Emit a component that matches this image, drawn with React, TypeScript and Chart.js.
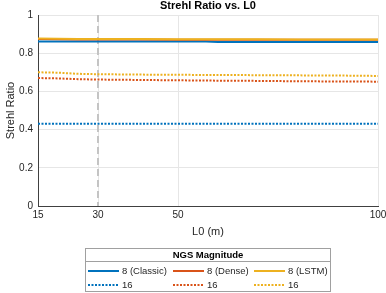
import React, { useEffect, useRef } from "react";
import { Chart, registerables } from "chart.js";

Chart.register(...registerables);

const L0_VALUES = [15, 20, 25, 30, 40, 50, 57, 60, 70, 80, 90, 100];
const CLASSIC_8 = [0.861, 0.861, 0.861, 0.861, 0.861, 0.861, 0.861, 0.858, 0.858, 0.858, 0.858, 0.858];
const DENSE_8 = [0.874, 0.873, 0.872, 0.872, 0.872, 0.871, 0.871, 0.871, 0.871, 0.870, 0.870, 0.870];
const LSTM_8 = [0.877, 0.876, 0.874, 0.874, 0.874, 0.873, 0.873, 0.873, 0.873, 0.872, 0.872, 0.872];
const CLASSIC_16 = [0.431, 0.431, 0.431, 0.431, 0.431, 0.431, 0.431, 0.431, 0.431, 0.431, 0.431, 0.431];
const DENSE_16 = [0.670, 0.668, 0.664, 0.662, 0.660, 0.658, 0.657, 0.656, 0.655, 0.653, 0.652, 0.651];
const LSTM_16 = [0.700, 0.698, 0.692, 0.690, 0.688, 0.687, 0.686, 0.686, 0.685, 0.684, 0.683, 0.681];

const X_TICKS = [15, 30, 50, 100];
const REF_L0 = 30;
const SERIES_LABELS = ["8 (Classic)", "8 (Dense)", "8 (LSTM)", "16", "16", "16"];
const COLORS = ["#0072BD", "#D95319", "#EDB120"];
const TITLE = "Strehl Ratio vs. L0";
const X_TITLE = "L0 (m)";
const Y_TITLE = "Strehl Ratio";
const LEGEND_TITLE = "NGS Magnitude";

const FONT = "'Liberation Sans', Arial, sans-serif";
const TXT = "#262626";

export default function App() {
  const ref = useRef<HTMLCanvasElement | null>(null);

  useEffect(() => {
    const canvas = ref.current;
    if (!canvas) return;
    const seriesData = [CLASSIC_8, DENSE_8, LSTM_8, CLASSIC_16, DENSE_16, LSTM_16];
    const datasets = seriesData.map((arr, i) => ({
      label: SERIES_LABELS[i],
      data: L0_VALUES.map((x, j) => ({ x, y: arr[j] })),
      borderColor: COLORS[i % 3],
      backgroundColor: COLORS[i % 3],
      borderWidth: 2,
      borderDash: i >= 3 ? [2, 1.5] : [],
      pointRadius: 0,
      tension: 0,
      fill: false,
      order: 6 - i,
    }));
    const overlay = {
      id: "overlay",
      beforeDatasetsDraw(chart: any) {
        const { ctx, chartArea, scales } = chart;
        const x = scales.x.getPixelForValue(REF_L0);
        ctx.save();
        ctx.strokeStyle = "#c4c4c4";
        ctx.lineWidth = 2;
        ctx.setLineDash([7, 4]);
        ctx.beginPath();
        ctx.moveTo(x, chartArea.top);
        ctx.lineTo(x, chartArea.bottom);
        ctx.stroke();
        ctx.restore();
      },
      afterDraw(chart: any) {
        const { ctx, chartArea } = chart;
        const cx = (chartArea.left + chartArea.right) / 2;
        ctx.save();
        ctx.fillStyle = "#000";
        ctx.font = `bold 11px ${FONT}`;
        ctx.textAlign = "center";
        ctx.textBaseline = "middle";
        ctx.fillText(TITLE, cx, 6);
        ctx.fillStyle = TXT;
        ctx.font = `11px ${FONT}`;
        ctx.fillText(X_TITLE, cx, 232);
        ctx.save();
        ctx.translate(11, (chartArea.top + chartArea.bottom) / 2);
        ctx.rotate(-Math.PI / 2);
        ctx.fillText(Y_TITLE, 0, 0);
        ctx.restore();

        const lx = 85.5, ly = 248.5, lw = 245, lh = 43;
        ctx.fillStyle = "#fff";
        ctx.fillRect(lx, ly, lw, lh);
        ctx.strokeStyle = "#a0a0a0";
        ctx.lineWidth = 1;
        ctx.setLineDash([]);
        ctx.strokeRect(lx, ly, lw, lh);
        ctx.beginPath();
        ctx.moveTo(lx, 261.5);
        ctx.lineTo(lx + lw, 261.5);
        ctx.stroke();
        ctx.fillStyle = "#000";
        ctx.font = `bold 9.5px ${FONT}`;
        ctx.textAlign = "center";
        ctx.fillText(LEGEND_TITLE, lx + lw / 2, 255);
        const colX = [88, 173, 254];
        const rowY = [271, 285];
        ctx.font = `9.5px ${FONT}`;
        ctx.textAlign = "left";
        chart.data.datasets.forEach((ds: any, i: number) => {
          const c = i % 3;
          const r = Math.floor(i / 3);
          const x0 = colX[c];
          const y0 = rowY[r];
          ctx.strokeStyle = ds.borderColor;
          ctx.lineWidth = 2;
          ctx.setLineDash(ds.borderDash || []);
          ctx.beginPath();
          ctx.moveTo(x0, y0);
          ctx.lineTo(x0 + 31, y0);
          ctx.stroke();
          ctx.fillStyle = TXT;
          ctx.fillText(ds.label, x0 + 34, y0 + 0.5);
        });
        ctx.restore();
      },
    };

    const chart = new Chart(canvas, {
      type: "line",
      data: { datasets: datasets as any },
      options: {
        responsive: false,
        animation: false,
        layout: { padding: { top: 15, right: 8, left: 0, bottom: 0 } },
        plugins: { legend: { display: false }, title: { display: false }, tooltip: { enabled: false } },
        scales: {
          x: {
            type: "linear",
            min: 15,
            max: 100,
            afterBuildTicks: (s: any) => {
              s.ticks = X_TICKS.map((v) => ({ value: v }));
            },
            afterFit: (s: any) => {
              s.height = 87;
              s.paddingLeft = 0;
              s.paddingRight = 0;
            },
            ticks: { color: TXT, font: { size: 10, family: FONT }, padding: 3, maxRotation: 0, autoSkip: false },
            grid: { color: "#e6e6e6", drawTicks: false, lineWidth: 1 },
            border: { display: true, color: "#404040", width: 1 },
          },
          y: {
            min: 0,
            max: 1,
            afterFit: (s: any) => {
              s.width = 38;
            },
            ticks: {
              stepSize: 0.2,
              color: TXT,
              font: { size: 10, family: FONT },
              padding: 5,
              callback: (v: any) => String(Math.round(Number(v) * 10) / 10),
            },
            grid: { color: "#e6e6e6", drawTicks: false, lineWidth: 1 },
            border: { display: true, color: "#404040", width: 1 },
          },
        },
      },
      plugins: [overlay],
    });
    return () => chart.destroy();
  }, []);

  return (
    <div style={{ position: "absolute", left: 0, top: 0, width: 386, height: 293, background: "#fff" }}>
      <canvas ref={ref} width={386} height={293} />
    </div>
  );
}
